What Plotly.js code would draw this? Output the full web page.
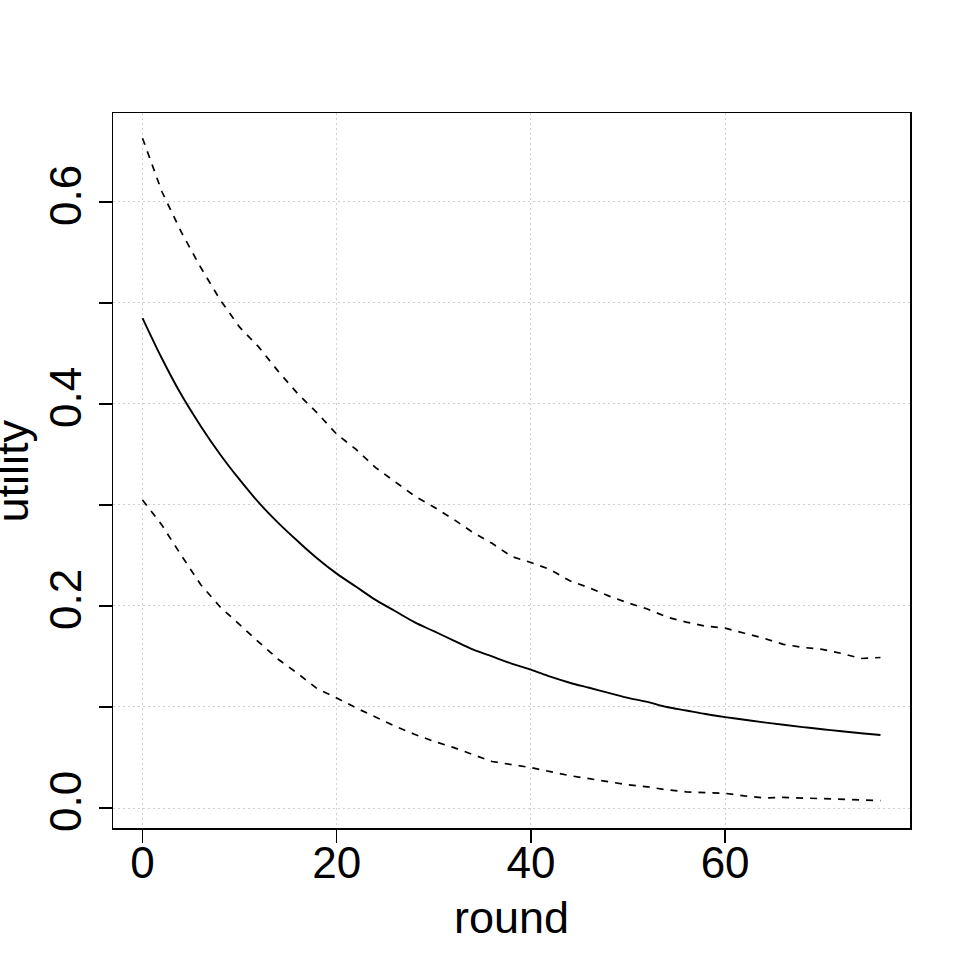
<!DOCTYPE html>
<html>
<head>
<meta charset="utf-8">
<script src="https://cdn.plot.ly/plotly-3.0.1.min.js"></script>
<style>
  html, body { margin: 0; padding: 0; background: #fff; }
  #chart { width: 969px; height: 969px; }
</style>
</head>
<body>
<div id="chart"></div>
<script>
// rounds 0..76, every second round
var rounds = [0, 2, 4, 6, 8, 10, 12, 14, 16, 18, 20, 22, 24, 26, 28, 30, 32, 34, 36, 38,
              40, 42, 44, 46, 48, 50, 52, 54, 56, 58, 60, 62, 64, 66, 68, 70, 72, 74, 76];

var meanUtility = [0.485, 0.445, 0.409, 0.378, 0.350, 0.325, 0.302, 0.282, 0.264, 0.247,
                   0.232, 0.219, 0.206, 0.195, 0.184, 0.175, 0.166, 0.157, 0.150, 0.143,
                   0.137, 0.130, 0.124, 0.119, 0.114, 0.109, 0.105, 0.100, 0.0965, 0.093,
                   0.090, 0.0873, 0.0848, 0.0824, 0.0801, 0.078, 0.076, 0.074, 0.0722];

var upperUtility = [0.663, 0.610, 0.570, 0.535, 0.503, 0.476, 0.456, 0.432, 0.410, 0.391,
                    0.370, 0.355, 0.337, 0.323, 0.309, 0.298, 0.286, 0.273, 0.262, 0.249,
                    0.243, 0.236, 0.225, 0.218, 0.210, 0.203, 0.197, 0.189, 0.184, 0.180,
                    0.178, 0.173, 0.168, 0.162, 0.159, 0.157, 0.153, 0.148, 0.149];

var lowerUtility = [0.305, 0.280, 0.250, 0.221, 0.199, 0.181, 0.164, 0.147, 0.133, 0.118,
                    0.109, 0.099, 0.090, 0.081, 0.073, 0.066, 0.060, 0.053, 0.046, 0.043,
                    0.040, 0.036, 0.032, 0.029, 0.026, 0.023, 0.021, 0.018, 0.016, 0.015,
                    0.0145, 0.012, 0.010, 0.0105, 0.010, 0.0096, 0.009, 0.008, 0.0073];

var xTicks = [0, 20, 40, 60];
var yTicks = [0.0, 0.1, 0.2, 0.3, 0.4, 0.5, 0.6];
var yTickText = ["0.0", "", "0.2", "", "0.4", "", "0.6"];

var font = "Liberation Sans, Arial, Helvetica, sans-serif";

var traces = [
  { x: rounds, y: upperUtility, type: "scatter", mode: "lines",
    line: { color: "#000", width: 1.7, dash: "7px,7px" } },
  { x: rounds, y: meanUtility, type: "scatter", mode: "lines",
    line: { color: "#000", width: 1.9, shape: "spline" } },
  { x: rounds, y: lowerUtility, type: "scatter", mode: "lines",
    line: { color: "#000", width: 1.7, dash: "7px,7px" } }
];

var axisCommon = {
  showline: true, mirror: true, linecolor: "#000", linewidth: 1.5,
  ticks: "outside", ticklen: 13, tickwidth: 1.5, tickcolor: "#000",
  showgrid: true, gridcolor: "#cfcfcf", gridwidth: 1, griddash: "1.5px,3.5px",
  zeroline: false, tickfont: { family: font, size: 44, color: "#000" }
};

var layout = {
  width: 969, height: 969,
  margin: { l: 113, r: 59, t: 113, b: 141 },
  paper_bgcolor: "#fff", plot_bgcolor: "#fff",
  showlegend: false,
  xaxis: Object.assign({}, axisCommon, {
    range: [-3.04, 79.04], tickmode: "array", tickvals: xTicks,
    ticklabelstandoff: -17,
    title: { text: "round", font: { family: font, size: 45, color: "#000" }, standoff: 15 }
  }),
  yaxis: Object.assign({}, axisCommon, {
    range: [-0.0198, 0.688], tickmode: "array", tickvals: yTicks, ticktext: yTickText,
    tickangle: -90
  }),
  // y title sits partly outside the page in the original, so it is an annotation
  annotations: [{
    text: "utility", textangle: -90, showarrow: false,
    xref: "paper", yref: "paper", x: -0.1255, y: 0.5,
    xanchor: "center", yanchor: "middle",
    font: { family: font, size: 45, color: "#000" }
  }]
};

Plotly.newPlot("chart", traces, layout, { displayModeBar: false, staticPlot: true });
</script>
</body>
</html>
